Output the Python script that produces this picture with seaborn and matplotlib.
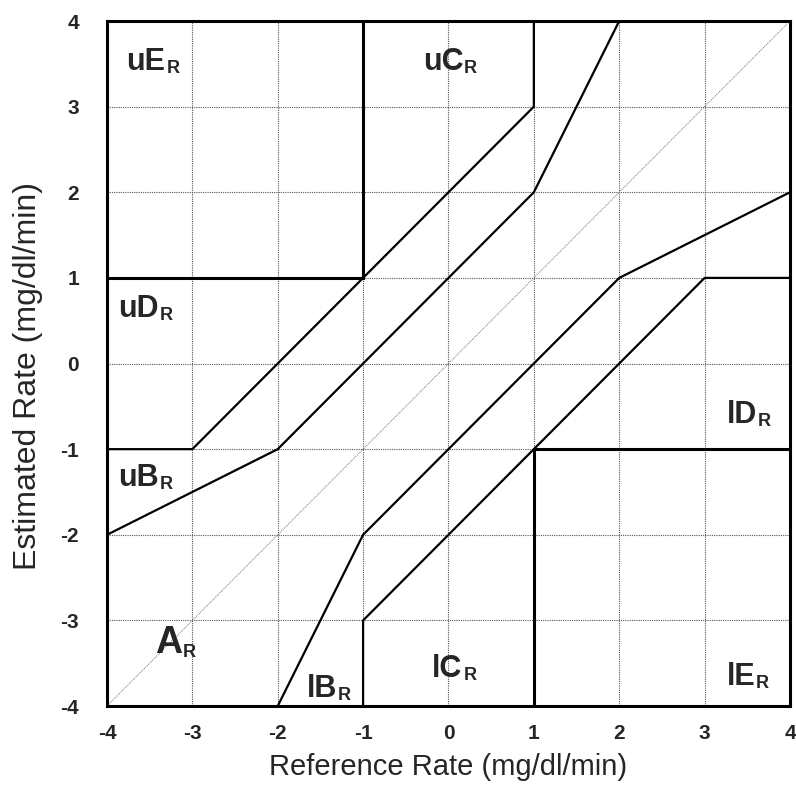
import matplotlib
matplotlib.use('Agg')
import matplotlib.pyplot as plt
import seaborn as sns

# zone boundary polylines (reference rate, estimated rate)
upper_outer_x = [-4, -3, 1, 1]
upper_outer_y = [-1, -1, 3, 4]
upper_inner_x = [-4, -2, 1, 2]
upper_inner_y = [-2, -1, 2, 4]
lower_inner_x = [-2, -1, 2, 4]
lower_inner_y = [-4, -2, 1, 2]
lower_outer_x = [-1, -1, 3, 4]
lower_outer_y = [-4, -3, 1, 1]

# the two corner boxes (uE and lE)
box_ue_x = [-4, -1, -1]
box_ue_y = [1, 1, 4]
box_le_x = [1, 1, 4]
box_le_y = [-4, -1, -1]

ticks = [-4, -3, -2, -1, 0, 1, 2, 3, 4]

# zone labels: name, left x, baseline y
zone_names = ['uE', 'uC', 'uD', 'uB', 'A', 'lB', 'lC', 'lD', 'lE']
zone_x = [-3.77, -0.30, -3.87, -3.87, -3.44, -1.66, -0.19, 3.26, 3.26]
zone_y = [3.43, 3.43, 0.54, -1.43, -3.38, -3.89, -3.66, -0.69, -3.76]

sns.set_style('white')
plt.rcParams['font.family'] = ['Liberation Sans', 'DejaVu Sans']
plt.rcParams['axes.unicode_minus'] = False

fig = plt.figure(figsize=(7.96, 7.85), dpi=100)
ax = fig.add_axes([0.1344, 0.1006, 0.858, 0.8726])

# identity line
sns.lineplot(x=[-4, 4], y=[-4, 4], ax=ax, color='#777777', lw=0.7,
             linestyle=(0, (1, 1)), estimator=None, sort=False)

for xs, ys in [(upper_outer_x, upper_outer_y), (upper_inner_x, upper_inner_y),
               (lower_inner_x, lower_inner_y), (lower_outer_x, lower_outer_y)]:
    sns.lineplot(x=xs, y=ys, ax=ax, color='black', lw=1.6,
                 estimator=None, sort=False)

for xs, ys in [(box_ue_x, box_ue_y), (box_le_x, box_le_y)]:
    sns.lineplot(x=xs, y=ys, ax=ax, color='black', lw=2.2,
                 estimator=None, sort=False, solid_joinstyle='miter')

for name, x, y in zip(zone_names, zone_x, zone_y):
    size = 27 if name == 'A' else 22
    t = ax.text(x, y, name, fontsize=size, fontweight='bold',
                ha='left', va='baseline')
    ax.annotate('R', xy=(1, 0), xycoords=t, xytext=(0.5, 0),
                textcoords='offset points', fontsize=13, fontweight='bold',
                ha='left', va='bottom')

ax.set_xlim(-4, 4)
ax.set_ylim(-4, 4)
ax.set_xticks(ticks)
ax.set_yticks(ticks)
ax.set_xticklabels([str(t) for t in ticks], fontweight='bold', fontsize=15)
ax.set_yticklabels([str(t) for t in ticks], fontweight='bold', fontsize=15)
ax.tick_params(axis='x', length=0, pad=13)
ax.tick_params(axis='y', length=0, pad=20)

ax.grid(True, linestyle=(0, (1, 1)), color='#555555', lw=0.8)
ax.set_axisbelow(True)
for s in ax.spines.values():
    s.set_linewidth(2.2)
    s.set_color('black')

ax.set_xlabel('Reference Rate (mg/dl/min)', fontsize=21)
ax.set_ylabel('Estimated Rate (mg/dl/min)', fontsize=23)
ax.xaxis.set_label_coords(0.5, -0.068)
ax.yaxis.set_label_coords(-0.094, 0.482)

fig.savefig('out.png', dpi=100)
